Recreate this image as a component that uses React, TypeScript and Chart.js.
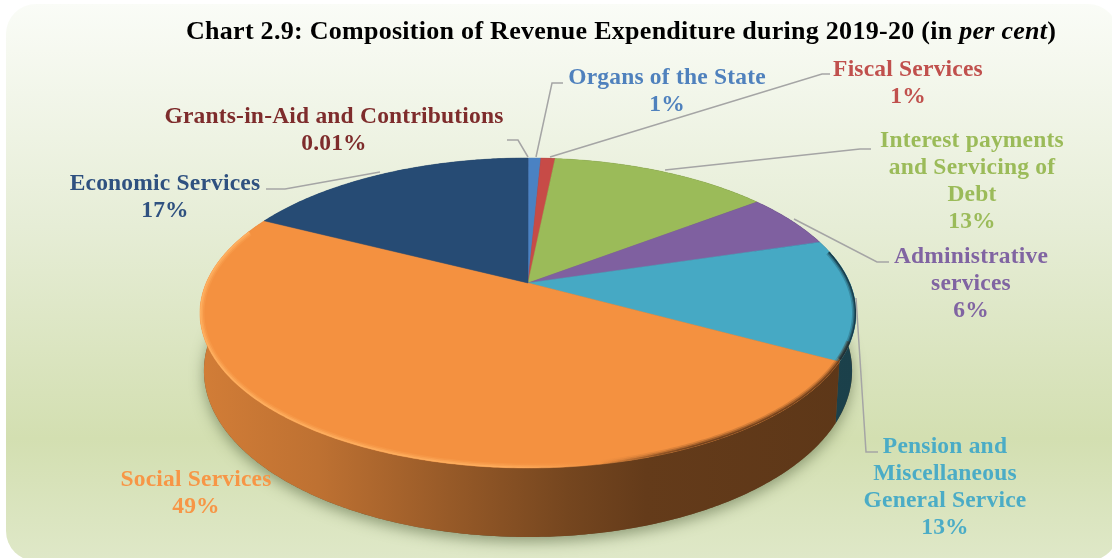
import React, { useEffect, useRef } from "react";
import { Chart, registerables } from "chart.js";

Chart.register(...registerables);

// ---- data ----
const categories = [
  "Grants-in-Aid and Contributions",
  "Organs of the State",
  "Fiscal Services",
  "Interest payments and Servicing of Debt",
  "Administrative services",
  "Pension and Miscellaneous General Service",
  "Social Services",
  "Economic Services",
];
const values = [0.01, 0.75, 0.84, 13.0, 5.7, 12.6, 49.45, 17.49];
const percentLabels = ["0.01%", "1%", "1%", "13%", "6%", "13%", "49%", "17%"];
const sliceColors = ["#7e2c2c", "#4a82c3", "#c74b47", "#9bbb59", "#7f60a0", "#46a9c4", "#f49140", "#264b74"];
const textColors = ["#7e2c2c", "#4f81bd", "#c0504d", "#9bbb59", "#8064a2", "#4bacc6", "#f79646", "#2f5180"];
const labelLines = [
  ["Grants-in-Aid and Contributions"],
  ["Organs of the State"],
  ["Fiscal Services"],
  ["Interest payments", "and Servicing of", "Debt"],
  ["Administrative", "services"],
  ["Pension and", "Miscellaneous", "General Service"],
  ["Social Services"],
  ["Economic Services"],
];

// ---- layout ----
const labelAnchors: [number, number][] = [
  [334, 116.5], [667, 77.5], [908, 69.5], [972, 140.5], [971, 256.5], [945, 446.5], [196, 479.5], [165, 183.5],
];
const leaders: ([number, number][] | null)[] = [
  [[507, 140], [518, 140], [528, 157]],
  [[563, 83], [552, 83], [536, 157]],
  [[550, 157], [822, 74], [830, 74]],
  [[665, 170], [860, 149], [871, 149]],
  [[794, 219], [877, 262], [889, 262]],
  [[856, 298], [866, 452], [878, 452]],
  null,
  [[266, 189], [285, 189], [380, 172]],
];
const APEX_X = 528, APEX_Y = 283;
const BACK = 125, FRONT = 185, HALF_W = 328, DROP_FRONT = 69, BASE_SHRINK = 0.988;
const K = (BACK - FRONT) / (BACK + FRONT);
const B = BACK * (1 - K);
const A = HALF_W * Math.sqrt(1 - K * K);
const DROP = DROP_FRONT * (1 + K);
const LINE_H = 27.3;
const FONT = '"Liberation Serif", serif';

function project(theta: number, dropped: boolean): [number, number] {
  const u = Math.sin(theta), v = -Math.cos(theta);
  const w = 1 + K * v;
  const sx = dropped ? BASE_SHRINK : 1;
  return [APEX_X + (sx * A * u) / w, APEX_Y + (B * v) / w + (dropped ? DROP / w : 0)];
}

function scale(hex: string, f: number): string {
  const n = parseInt(hex.slice(1), 16);
  const c = [(n >> 16) & 255, (n >> 8) & 255, n & 255].map((x) => Math.round(x * f));
  return `rgb(${c[0]},${c[1]},${c[2]})`;
}

function rimPath(ctx: CanvasRenderingContext2D, a: number, b: number, dropped: boolean, move: boolean) {
  const steps = Math.max(2, Math.ceil(Math.abs(b - a) / 0.01));
  for (let i = 0; i <= steps; i++) {
    const [x, y] = project(a + ((b - a) * i) / steps, dropped);
    if (i === 0 && move) ctx.moveTo(x, y);
    else ctx.lineTo(x, y);
  }
}

const perspectivePie = {
  id: "perspectivePie",
  beforeDatasetsDraw(chart: any) {
    const ctx: CanvasRenderingContext2D = chart.ctx;
    const arcs = chart.getDatasetMeta(0).data as any[];
    const angles = arcs.map((arc) => {
      const p = arc.getProps(["startAngle", "endAngle"], true);
      return [p.startAngle + Math.PI / 2, p.endAngle + Math.PI / 2];
    });

    // soft ground shadow
    ctx.save();
    ctx.shadowColor = "rgba(70,85,50,0.5)";
    ctx.shadowBlur = 14;
    ctx.shadowOffsetY = 5;
    ctx.fillStyle = "#6b5a3a";
    ctx.beginPath();
    rimPath(ctx, 0, Math.PI * 2, true, true);
    ctx.closePath();
    ctx.fill();
    ctx.restore();

    // side walls
    angles.forEach(([a, b], i) => {
      const g = ctx.createLinearGradient(200, 0, 856, 0);
      const base = sliceColors[i];
      g.addColorStop(0, scale(base, 0.86));
      g.addColorStop(0.18, scale(base, 0.78));
      g.addColorStop(0.38, scale(base, 0.62));
      g.addColorStop(0.56, scale(base, 0.48));
      g.addColorStop(0.68, scale(base, 0.41));
      g.addColorStop(1, scale(base, 0.38));
      ctx.fillStyle = g;
      ctx.beginPath();
      rimPath(ctx, a, b, false, true);
      rimPath(ctx, b, a, true, false);
      ctx.closePath();
      ctx.fill();
    });

    // top faces
    angles.forEach(([a, b], i) => {
      ctx.fillStyle = sliceColors[i];
      ctx.strokeStyle = sliceColors[i];
      ctx.lineWidth = 0.5;
      ctx.beginPath();
      ctx.moveTo(APEX_X, APEX_Y);
      rimPath(ctx, a, b, false, false);
      ctx.closePath();
      ctx.fill();
      ctx.stroke();
    });

    // bevel along the front rim of the top face
    ctx.save();
    ctx.beginPath();
    rimPath(ctx, 0, Math.PI * 2, false, true);
    ctx.closePath();
    ctx.clip();
    const light = ctx.createLinearGradient(200, 0, 700, 0);
    light.addColorStop(0, "rgba(255,176,96,0.9)");
    light.addColorStop(0.6, "rgba(255,176,96,0.75)");
    light.addColorStop(0.78, "rgba(255,176,96,0)");
    light.addColorStop(0.8, "rgba(110,62,26,0)");
    light.addColorStop(1, "rgba(110,62,26,0.9)");
    const rimA = Math.PI * 0.62, rimB = Math.PI * 1.62;
    [[9, 0.25], [6, 0.5], [3, 1]].forEach(([lw, alpha]) => {
      ctx.globalAlpha = alpha;
      ctx.strokeStyle = light;
      ctx.lineWidth = lw;
      ctx.beginPath();
      rimPath(ctx, rimA, rimB, false, true);
      ctx.stroke();
    });
    // dark soft edge on the right-hand rim
    [[8, 0.25], [5, 0.45], [2.5, 0.8]].forEach(([lw, alpha]) => {
      ctx.globalAlpha = alpha;
      ctx.strokeStyle = "#15303c";
      ctx.lineWidth = lw;
      ctx.beginPath();
      rimPath(ctx, Math.PI * 0.43, Math.PI * 0.655, false, true);
      ctx.stroke();
    });
    ctx.restore();

    return false;
  },
};

const annotations = {
  id: "annotations",
  afterDraw(chart: any) {
    const ctx: CanvasRenderingContext2D = chart.ctx;
    ctx.save();
    // leader lines
    ctx.strokeStyle = "#a5a5a5";
    ctx.lineWidth = 1.5;
    leaders.forEach((pts) => {
      if (!pts) return;
      ctx.beginPath();
      pts.forEach(([x, y], i) => (i ? ctx.lineTo(x, y) : ctx.moveTo(x, y)));
      ctx.stroke();
    });
    // slice labels
    ctx.textAlign = "center";
    ctx.textBaseline = "middle";
    ctx.font = `bold 23.5px ${FONT}`;
    (ctx as any).letterSpacing = "0.2px";
    categories.forEach((_, i) => {
      const [x, y0] = labelAnchors[i];
      ctx.fillStyle = textColors[i];
      const lines = [...labelLines[i], percentLabels[i]];
      lines.forEach((t, j) => {
        ctx.fillText(t, x, y0 + j * LINE_H);
      });
    });
    // title with italic part
    ctx.textAlign = "left";
    ctx.textBaseline = "alphabetic";
    ctx.fillStyle = "#000";
    (ctx as any).letterSpacing = "0.28px";
    const parts: [string, string][] = [
      ["bold", "Chart 2.9: Composition of Revenue Expenditure during 2019-20 (in "],
      ["italic bold", "per cent"],
      ["bold", ")"],
    ];
    let x = 186;
    parts.forEach(([style, text]) => {
      ctx.font = `${style} 26px ${FONT}`;
      ctx.fillText(text, x, 39);
      x += ctx.measureText(text).width;
    });
    ctx.restore();
  },
};

export default function App() {
  const ref = useRef<HTMLCanvasElement>(null);
  useEffect(() => {
    if (!ref.current) return;
    const chart = new Chart(ref.current, {
      type: "pie",
      data: {
        labels: categories,
        datasets: [{ data: values, backgroundColor: sliceColors, borderWidth: 0 }],
      },
      options: {
        responsive: false,
        animation: false,
        events: [],
        plugins: { legend: { display: false }, tooltip: { enabled: false } },
      },
      plugins: [perspectivePie, annotations],
    } as any);
    return () => chart.destroy();
  }, []);
  return (
    <div style={{ position: "fixed", left: 0, top: 0, width: 1112, height: 558, background: "#fff", overflow: "hidden" }}>
      <div
        style={{
          position: "absolute",
          left: 6,
          top: 4,
          width: 1112,
          height: 557,
          borderRadius: 30,
          background: "linear-gradient(180deg,#fafcf7 0%,#e6edd6 40%,#d3dfb1 78%,#dfe8c8 100%)",
        }}
      />
      <canvas ref={ref} width={1112} height={558} style={{ position: "absolute", left: 0, top: 0, display: "block" }} />
    </div>
  );
}
